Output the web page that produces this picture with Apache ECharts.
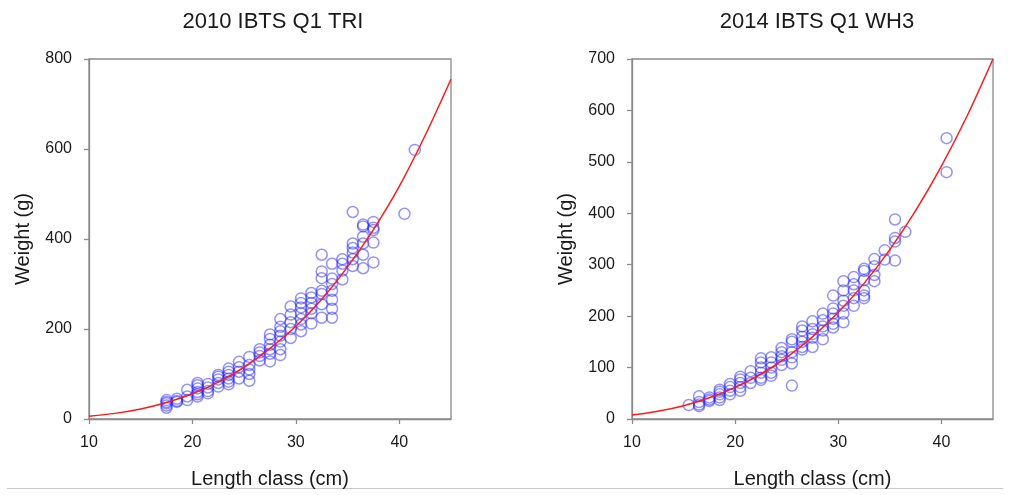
<!DOCTYPE html>
<html>
<head>
<meta charset="utf-8">
<script src="https://cdn.jsdelivr.net/npm/echarts@6/dist/echarts.min.js"></script>
<style>
  html, body { margin: 0; padding: 0; background: #fff; }
  #chart { width: 1009px; height: 495px; }
</style>
</head>
<body>
<div id="chart"></div>
<script>
// Length classes (cm) and the individual weights (g) recorded in each class
const lenTRI = [17.5, 18.5, 19.5, 20.5, 21.5, 22.5, 23.5, 24.5, 25.5, 26.5, 27.5, 28.5,
                29.5, 30.5, 31.5, 32.5, 33.5, 34.5, 35.5, 36.5, 37.5, 40.5, 41.5];
const wTRI = [
  [42, 38, 35, 30, 25],
  [45, 40, 38],
  [65, 50, 42],
  [80, 75, 68, 60, 55, 50],
  [78, 70, 62, 57],
  [98, 94, 88, 80, 72],
  [112, 105, 98, 90, 83, 77],
  [127, 115, 105, 90],
  [138, 120, 110, 100, 85],
  [155, 148, 140, 130],
  [188, 178, 165, 155, 145, 128],
  [222, 205, 195, 185, 172, 155, 142],
  [250, 232, 215, 200, 180],
  [268, 258, 248, 235, 222, 210, 195],
  [280, 270, 258, 245, 235, 212],
  [365, 328, 313, 285, 278, 255, 225],
  [345, 312, 300, 285, 265, 245, 225],
  [355, 345, 330, 310],
  [460, 390, 380, 370, 355, 340],
  [432, 428, 405, 390, 365, 335],
  [438, 425, 420, 392, 348],
  [456],
  [598]
];

const lenWH3 = [15.5, 16.5, 17.5, 18.5, 19.5, 20.5, 21.5, 22.5, 23.5, 24.5, 25.5, 26.5,
                27.5, 28.5, 29.5, 30.5, 31.5, 32.5, 33.5, 34.5, 35.5, 36.5, 40.5];
const wWH3 = [
  [27],
  [44, 33, 28, 25],
  [42, 38, 35],
  [57, 53, 48, 42, 37],
  [68, 62, 55, 48],
  [82, 77, 70, 62, 55],
  [93, 80, 70],
  [118, 110, 100, 90, 80, 76],
  [120, 110, 100, 90, 84],
  [138, 130, 122, 115, 105],
  [155, 150, 130, 120, 108, 65],
  [180, 172, 160, 150, 140, 135],
  [190, 175, 165, 158, 140],
  [205, 192, 180, 172, 155],
  [240, 215, 205, 195, 185, 178],
  [268, 250, 230, 220, 205, 188],
  [276, 262, 250, 235, 220],
  [292, 288, 270, 250, 240, 235],
  [311, 297, 280, 268],
  [328, 310],
  [388, 352, 345, 308],
  [364],
  [546, 480]
];

// Fitted length-weight curves, sampled along the length axis
const curveLen = [10, 12.5, 15, 17.5, 20, 22.5, 25, 27.5, 30, 32.5, 35, 37.5, 40, 42.5, 45];
const curveTRI = [6.1, 12.5, 22.4, 36.8, 56, 82, 115, 157, 206, 266, 338, 421, 517, 630, 755];
const curveWH3 = [7.7, 15.0, 25.9, 41.2, 61.5, 87.5, 120, 159.8, 207.4, 263.7, 329.4, 405.1, 491.7, 589.7, 700];

// Panel titles and axis ticks
const titles = ['2010 IBTS Q1 TRI', '2014 IBTS Q1 WH3'];
const xTicks = [10, 20, 30, 40];
const yTicksTRI = [0, 200, 400, 600, 800];
const yTicksWH3 = [0, 100, 200, 300, 400, 500, 600, 700];

function toPairs(lens, weights) {
  const out = [];
  lens.forEach((L, i) => weights[i].forEach(w => out.push([L, w])));
  return out;
}
function zip(xs, ys) { return xs.map((x, i) => [x, ys[i]]); }

const FONT = '"Liberation Sans", Arial, sans-serif';
const AX = '#8a8a8a';
const TXT = '#1a1a1a';

function xAxisFor(gridIndex) {
  return {
    type: 'value', gridIndex, min: 10, max: 45, interval: 10,
    name: 'Length class (cm)', nameLocation: 'middle', nameGap: 50,
    nameTextStyle: { fontFamily: FONT, fontSize: 20, color: TXT },
    axisLine: { show: true, lineStyle: { color: AX, width: 1.3 } },
    axisTick: { show: true, inside: false, length: 5, customValues: xTicks, lineStyle: { color: AX, width: 1.3 } },
    axisLabel: { customValues: xTicks, margin: 16, fontFamily: FONT, fontSize: 16, color: TXT },
    splitLine: { show: false }
  };
}
function yAxisFor(gridIndex, max, interval, ticks) {
  return {
    type: 'value', gridIndex, min: 0, max, interval,
    name: 'Weight (g)', nameLocation: 'middle', nameGap: 56,
    nameTextStyle: { fontFamily: FONT, fontSize: 20, color: TXT },
    axisLine: { show: true, lineStyle: { color: AX, width: 1.3 } },
    axisTick: { show: true, inside: false, length: 5, customValues: ticks, lineStyle: { color: AX, width: 1.3 } },
    axisLabel: { customValues: ticks, margin: 17, fontFamily: FONT, fontSize: 16, color: TXT },
    splitLine: { show: false }
  };
}

function scatter(idx, data) {
  return {
    type: 'scatter', xAxisIndex: idx, yAxisIndex: idx, data,
    symbol: 'circle', symbolSize: 11,
    itemStyle: { color: 'rgba(0,0,0,0)', borderColor: 'rgba(30,30,255,0.6)', borderWidth: 1.5 },
    z: 2
  };
}
function curve(idx, data) {
  return {
    type: 'line', xAxisIndex: idx, yAxisIndex: idx, data, smooth: 0.3,
    showSymbol: false, symbol: 'none',
    lineStyle: { color: '#ff1a1a', width: 1.5 },
    z: 3
  };
}

const chart = echarts.init(document.getElementById('chart'), null, { renderer: 'canvas' });
chart.setOption({
  animation: false,
  backgroundColor: '#ffffff',
  title: [
    { text: titles[0], left: 268, top: 6, textAlign: 'center',
      textStyle: { fontFamily: FONT, fontSize: 22, fontWeight: 'normal', color: TXT } },
    { text: titles[1], left: 812, top: 6, textAlign: 'center',
      textStyle: { fontFamily: FONT, fontSize: 22, fontWeight: 'normal', color: TXT } }
  ],
  grid: [
    { left: 89, top: 59, width: 362, height: 360, show: true, borderColor: AX, borderWidth: 1.3, backgroundColor: 'transparent' },
    { left: 632, top: 59, width: 361, height: 360, show: true, borderColor: AX, borderWidth: 1.3, backgroundColor: 'transparent' }
  ],
  xAxis: [xAxisFor(0), xAxisFor(1)],
  yAxis: [yAxisFor(0, 800, 200, yTicksTRI), yAxisFor(1, 700, 100, yTicksWH3)],
  series: [
    scatter(0, toPairs(lenTRI, wTRI)),
    curve(0, zip(curveLen, curveTRI)),
    scatter(1, toPairs(lenWH3, wWH3)),
    curve(1, zip(curveLen, curveWH3))
  ],
  graphic: [
    { type: 'line', shape: { x1: 7, y1: 488.5, x2: 1003, y2: 488.5 },
      style: { stroke: '#c8c8c8', lineWidth: 1 }, silent: true }
  ]
});
</script>
</body>
</html>
